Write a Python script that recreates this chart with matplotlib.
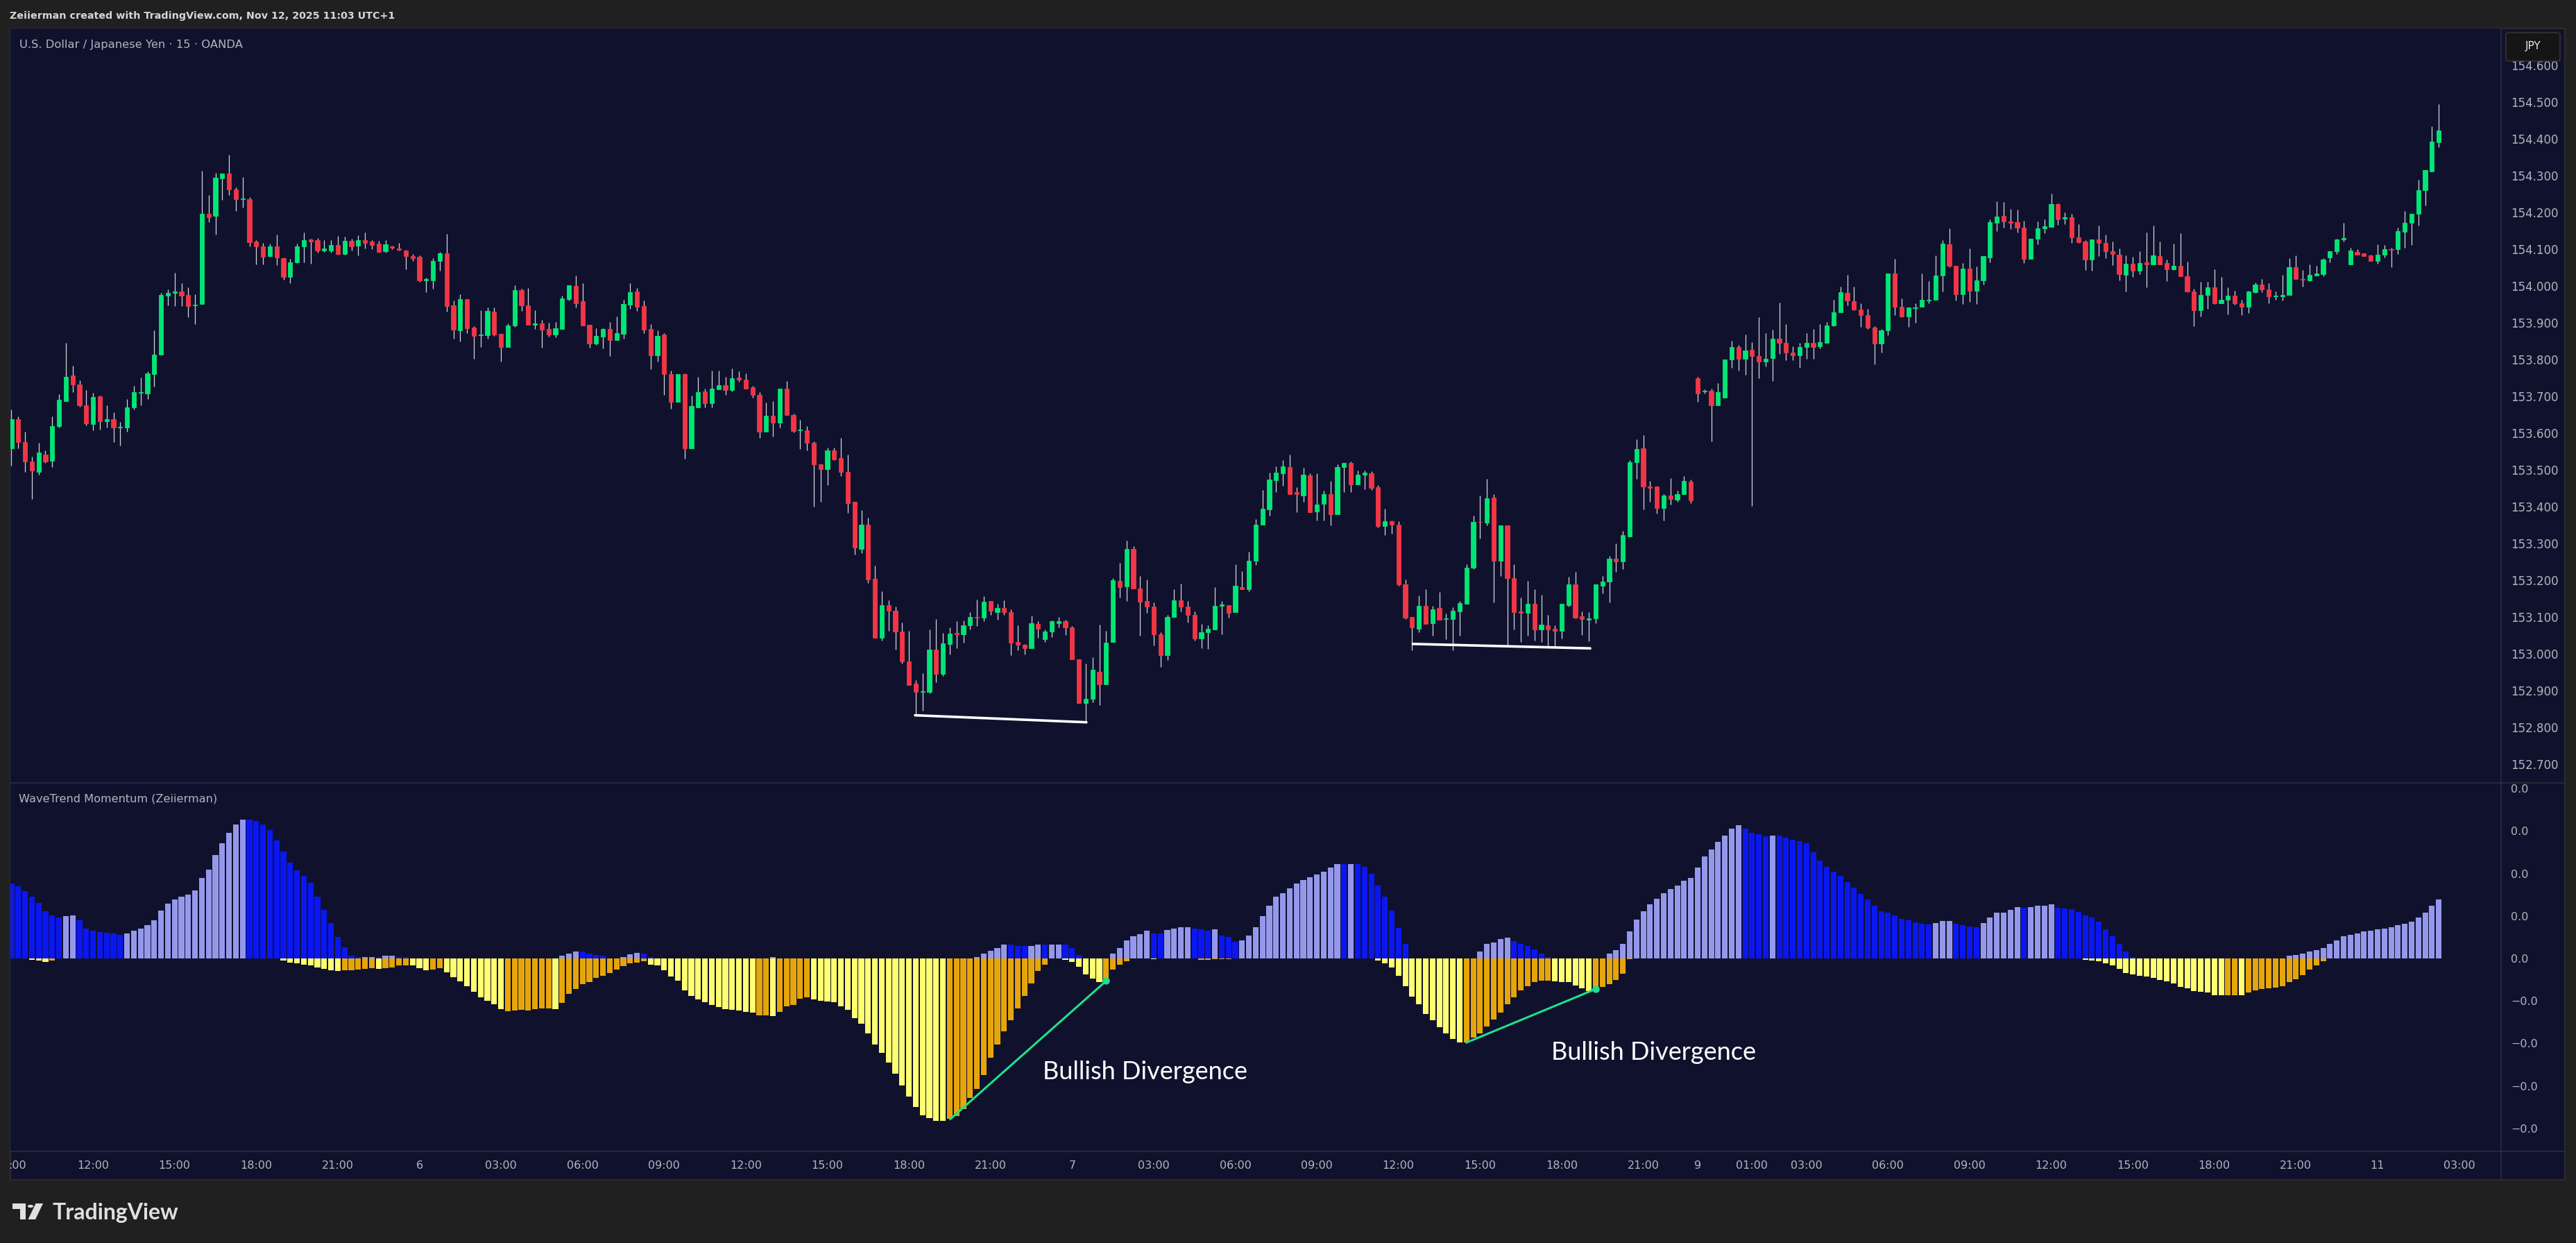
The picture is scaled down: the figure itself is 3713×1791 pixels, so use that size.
"""
plot.py
USDJPY 15m candles with WaveTrend Momentum histogram (TradingView style)
"""
import numpy as np
import matplotlib
matplotlib.use("Agg")
import matplotlib.pyplot as plt
from matplotlib import font_manager
from matplotlib.patches import Rectangle, FancyBboxPatch, Polygon, Circle
from matplotlib.lines import Line2D
from matplotlib.ticker import FixedLocator, FuncFormatter

# =========================================================
# DATA  (bar index 0 = 09:00 on day 5, 15-minute bars)
# =========================================================
OPEN = [
    153.558, 153.638, 153.575, 153.522, 153.495, 153.542, 153.524, 153.620, 153.688, 153.756,
    153.733, 153.676, 153.624, 153.700, 153.633, 153.638, 153.616, 153.616, 153.670, 153.710,
    153.708, 153.761, 153.814, 153.974, 153.982, 153.986, 153.976, 153.947, 153.952, 154.197,
    154.190, 154.292, 154.306, 154.262, 154.236, 154.236, 154.121, 154.107, 154.081, 154.108,
    154.076, 154.024, 154.065, 154.107, 154.127, 154.125, 154.097, 154.097, 154.112, 154.087,
    154.123, 154.110, 154.125, 154.121, 154.116, 154.095, 154.107, 154.102, 154.097, 154.081,
    154.080, 154.015, 154.016, 154.068, 154.089, 153.947, 153.879, 153.965, 153.888, 153.866,
    153.867, 153.931, 153.871, 153.835, 153.892, 153.989, 153.947, 153.895, 153.899, 153.883,
    153.868, 153.883, 153.965, 154.001, 153.958, 153.895, 153.844, 153.863, 153.883, 153.853,
    153.871, 153.950, 153.985, 153.946, 153.883, 153.812, 153.868, 153.760, 153.686, 153.760,
    153.558, 153.671, 153.714, 153.681, 153.720, 153.731, 153.717, 153.752, 153.745, 153.725,
    153.704, 153.604, 153.647, 153.628, 153.722, 153.649, 153.607, 153.608, 153.574, 153.515,
    153.502, 153.553, 153.532, 153.494, 153.413, 153.286, 153.351, 153.204, 153.043, 153.133,
    153.118, 153.060, 152.979, 152.919, 152.896, 152.896, 153.012, 152.946, 153.026, 153.057,
    153.053, 153.077, 153.101, 153.098, 153.144, 153.114, 153.124, 153.114, 153.033, 153.024,
    153.016, 153.082, 153.039, 153.061, 153.083, 153.088, 153.071, 152.985, 152.867, 152.878,
    152.952, 152.918, 153.032, 153.198, 153.183, 153.286, 153.177, 153.143, 153.128, 153.054,
    152.997, 153.100, 153.145, 153.128, 153.105, 153.042, 153.059, 153.067, 153.130, 153.133,
    153.114, 153.182, 153.176, 153.253, 153.351, 153.393, 153.472, 153.490, 153.508, 153.439,
    153.431, 153.486, 153.387, 153.407, 153.434, 153.379, 153.508, 153.520, 153.461, 153.488,
    153.491, 153.454, 153.348, 153.360, 153.352, 153.188, 153.101, 153.069, 153.130, 153.084,
    153.124, 153.094, 153.095, 153.115, 153.136, 153.235, 153.359, 153.356, 153.425, 153.253,
    153.349, 153.206, 153.116, 153.112, 153.136, 153.067, 153.078, 153.069, 153.062, 153.133,
    153.188, 153.103, 153.092, 153.096, 153.186, 153.196, 153.259, 153.252, 153.320, 153.521,
    153.559, 153.455, 153.455, 153.397, 153.431, 153.420, 153.434, 153.469, 153.750, 153.713,
    153.716, 153.676, 153.697, 153.800, 153.835, 153.803, 153.826, 153.809, 153.794, 153.804,
    153.856, 153.846, 153.820, 153.811, 153.835, 153.846, 153.836, 153.846, 153.893, 153.928,
    153.981, 153.959, 153.936, 153.922, 153.887, 153.843, 153.880, 154.035, 153.944, 153.917,
    153.940, 153.944, 153.960, 153.963, 154.028, 154.114, 154.055, 153.977, 154.048, 153.988,
    154.016, 154.078, 154.173, 154.191, 154.176, 154.174, 154.159, 154.074, 154.128, 154.157,
    154.161, 154.223, 154.184, 154.187, 154.132, 154.122, 154.073, 154.126, 154.118, 154.095,
    154.085, 154.031, 154.061, 154.042, 154.064, 154.059, 154.082, 154.063, 154.046, 154.055,
    154.027, 153.985, 153.935, 153.975, 153.997, 153.954, 153.962, 153.974, 153.954, 153.944,
    153.984, 154.004, 153.991, 153.972, 153.972, 153.975, 154.051, 154.019, 154.016, 154.029,
    154.033, 154.078, 154.095, 154.126, 154.059, 154.093, 154.089, 154.084, 154.069, 154.086,
    154.100, 154.100, 154.147, 154.172, 154.196, 154.261, 154.311, 154.391,
]
HIGH = [
    153.664, 153.645, 153.605, 153.537, 153.573, 153.553, 153.645, 153.706, 153.845, 153.783,
    153.743, 153.718, 153.710, 153.703, 153.675, 153.657, 153.630, 153.693, 153.729, 153.751,
    153.769, 153.880, 153.982, 153.991, 154.037, 154.008, 153.997, 153.978, 154.314, 154.248,
    154.308, 154.306, 154.357, 154.268, 154.297, 154.242, 154.124, 154.117, 154.115, 154.140,
    154.078, 154.074, 154.115, 154.146, 154.129, 154.131, 154.125, 154.125, 154.136, 154.134,
    154.128, 154.139, 154.146, 154.125, 154.123, 154.125, 154.110, 154.118, 154.099, 154.087,
    154.084, 154.023, 154.076, 154.093, 154.142, 153.961, 153.978, 153.965, 153.890, 153.935,
    153.942, 153.942, 153.871, 153.899, 154.002, 153.993, 153.994, 153.935, 153.907, 153.900,
    153.903, 153.974, 154.002, 154.029, 154.008, 153.895, 153.885, 153.885, 153.903, 153.918,
    153.963, 154.008, 153.995, 153.961, 153.897, 153.880, 153.872, 153.770, 153.760, 153.762,
    153.702, 153.754, 153.721, 153.771, 153.770, 153.754, 153.776, 153.768, 153.763, 153.729,
    153.712, 153.683, 153.687, 153.721, 153.742, 153.654, 153.636, 153.620, 153.577, 153.517,
    153.561, 153.561, 153.587, 153.542, 153.413, 153.391, 153.370, 153.239, 153.170, 153.145,
    153.129, 153.086, 153.063, 152.929, 152.948, 153.066, 153.094, 153.057, 153.071, 153.088,
    153.090, 153.114, 153.148, 153.157, 153.144, 153.137, 153.146, 153.121, 153.078, 153.026,
    153.104, 153.088, 153.066, 153.090, 153.100, 153.093, 153.076, 152.985, 152.974, 152.991,
    153.080, 153.063, 153.206, 153.247, 153.307, 153.293, 153.211, 153.203, 153.139, 153.059,
    153.105, 153.176, 153.190, 153.143, 153.116, 153.081, 153.078, 153.182, 153.143, 153.133,
    153.243, 153.224, 153.278, 153.367, 153.446, 153.493, 153.509, 153.526, 153.541, 153.454,
    153.506, 153.491, 153.491, 153.444, 153.471, 153.515, 153.520, 153.523, 153.498, 153.498,
    153.496, 153.459, 153.395, 153.363, 153.361, 153.202, 153.101, 153.159, 153.176, 153.130,
    153.168, 153.109, 153.126, 153.143, 153.244, 153.376, 153.431, 153.476, 153.434, 153.349,
    153.349, 153.244, 153.153, 153.198, 153.176, 153.161, 153.105, 153.078, 153.136, 153.210,
    153.223, 153.116, 153.114, 153.189, 153.212, 153.267, 153.301, 153.334, 153.526, 153.584,
    153.595, 153.471, 153.455, 153.435, 153.478, 153.444, 153.484, 153.474, 153.753, 153.720,
    153.722, 153.737, 153.800, 153.851, 153.840, 153.868, 153.848, 153.916, 153.872, 153.882,
    153.956, 153.897, 153.836, 153.845, 153.872, 153.884, 153.897, 153.903, 153.963, 153.998,
    154.030, 153.998, 153.954, 153.938, 153.891, 153.883, 154.035, 154.074, 153.967, 153.942,
    153.954, 154.035, 154.013, 154.084, 154.125, 154.157, 154.055, 154.063, 154.103, 154.053,
    154.082, 154.182, 154.231, 154.229, 154.210, 154.208, 154.177, 154.128, 154.176, 154.181,
    154.251, 154.225, 154.200, 154.196, 154.168, 154.124, 154.126, 154.164, 154.140, 154.121,
    154.103, 154.084, 154.079, 154.095, 154.146, 154.164, 154.121, 154.073, 154.116, 154.144,
    154.067, 153.993, 154.012, 154.012, 154.046, 154.024, 153.997, 153.987, 153.963, 153.988,
    154.010, 154.019, 154.008, 153.986, 154.031, 154.075, 154.084, 154.044, 154.059, 154.055,
    154.075, 154.095, 154.128, 154.172, 154.104, 154.100, 154.089, 154.086, 154.114, 154.112,
    154.104, 154.158, 154.204, 154.197, 154.289, 154.315, 154.434, 154.495,
]
LOW = [
    153.512, 153.558, 153.495, 153.421, 153.488, 153.520, 153.508, 153.616, 153.688, 153.712,
    153.672, 153.621, 153.607, 153.610, 153.616, 153.575, 153.567, 153.605, 153.665, 153.675,
    153.692, 153.726, 153.814, 153.947, 153.946, 153.946, 153.915, 153.897, 153.952, 154.174,
    154.140, 154.235, 154.248, 154.204, 154.214, 154.107, 154.059, 154.059, 154.080, 154.057,
    154.018, 154.008, 154.063, 154.065, 154.061, 154.091, 154.093, 154.091, 154.086, 154.086,
    154.097, 154.084, 154.102, 154.101, 154.091, 154.091, 154.101, 154.097, 154.046, 154.069,
    154.012, 153.984, 153.993, 154.042, 153.931, 153.857, 153.850, 153.872, 153.803, 153.835,
    153.856, 153.864, 153.794, 153.835, 153.889, 153.932, 153.895, 153.883, 153.833, 153.863,
    153.861, 153.883, 153.960, 153.942, 153.893, 153.833, 153.840, 153.831, 153.810, 153.853,
    153.856, 153.939, 153.932, 153.872, 153.773, 153.795, 153.704, 153.666, 153.686, 153.531,
    153.558, 153.671, 153.671, 153.671, 153.720, 153.704, 153.713, 153.739, 153.722, 153.696,
    153.588, 153.604, 153.591, 153.615, 153.649, 153.602, 153.556, 153.554, 153.401, 153.413,
    153.458, 153.527, 153.484, 153.384, 153.270, 153.273, 153.192, 153.043, 153.036, 153.063,
    153.011, 152.974, 152.916, 152.833, 152.845, 152.893, 152.922, 152.939, 152.998, 153.016,
    153.030, 153.067, 153.075, 153.089, 153.106, 153.092, 153.105, 152.997, 153.010, 152.999,
    153.015, 153.044, 153.033, 153.046, 153.071, 153.051, 152.985, 152.866, 152.814, 152.869,
    152.861, 152.918, 153.032, 153.154, 153.143, 153.177, 153.050, 153.112, 153.023, 152.965,
    152.983, 153.100, 153.116, 153.085, 153.036, 153.015, 153.013, 153.067, 153.054, 153.099,
    153.114, 153.176, 153.170, 153.242, 153.351, 153.375, 153.440, 153.457, 153.435, 153.385,
    153.413, 153.386, 153.362, 153.362, 153.350, 153.379, 153.440, 153.440, 153.461, 153.447,
    153.445, 153.343, 153.322, 153.327, 153.185, 153.094, 153.010, 153.059, 153.082, 153.050,
    153.093, 153.039, 153.010, 153.050, 153.136, 153.231, 153.313, 153.349, 153.139, 153.212,
    153.021, 153.067, 153.033, 153.050, 153.036, 153.033, 153.017, 153.017, 153.042, 153.129,
    153.097, 153.052, 153.035, 153.084, 153.164, 153.139, 153.223, 153.230, 153.320, 153.476,
    153.392, 153.413, 153.381, 153.362, 153.406, 153.414, 153.434, 153.410, 153.686, 153.707,
    153.577, 153.676, 153.697, 153.777, 153.771, 153.758, 153.402, 153.749, 153.781, 153.741,
    153.816, 153.799, 153.798, 153.777, 153.803, 153.802, 153.831, 153.846, 153.890, 153.928,
    153.947, 153.934, 153.889, 153.884, 153.787, 153.820, 153.867, 153.922, 153.915, 153.889,
    153.901, 153.944, 153.954, 153.963, 153.985, 154.051, 153.960, 153.952, 153.957, 153.952,
    154.004, 154.065, 154.149, 154.159, 154.155, 154.145, 154.063, 154.074, 154.114, 154.144,
    154.161, 154.167, 154.168, 154.117, 154.117, 154.044, 154.041, 154.081, 154.076, 154.057,
    154.016, 153.985, 154.024, 154.033, 153.997, 154.059, 154.059, 154.014, 154.044, 154.026,
    153.984, 153.891, 153.917, 153.938, 153.952, 153.954, 153.923, 153.949, 153.922, 153.927,
    153.981, 153.984, 153.954, 153.963, 153.961, 153.975, 154.019, 153.999, 154.013, 154.029,
    154.026, 154.064, 154.088, 154.122, 154.059, 154.085, 154.082, 154.069, 154.061, 154.077,
    154.051, 154.088, 154.104, 154.112, 154.164, 154.220, 154.311, 154.378,
]
CLOSE = [
    153.638, 153.575, 153.522, 153.498, 153.548, 153.522, 153.620, 153.690, 153.754, 153.733,
    153.675, 153.626, 153.699, 153.632, 153.638, 153.616, 153.618, 153.670, 153.712, 153.712,
    153.763, 153.814, 153.976, 153.982, 153.986, 153.974, 153.946, 153.950, 154.197, 154.187,
    154.295, 154.306, 154.262, 154.236, 154.238, 154.120, 154.107, 154.080, 154.108, 154.077,
    154.025, 154.065, 154.108, 154.125, 154.122, 154.097, 154.102, 154.112, 154.087, 154.123,
    154.108, 154.125, 154.118, 154.112, 154.093, 154.114, 154.104, 154.099, 154.081, 154.076,
    154.016, 154.020, 154.069, 154.089, 153.945, 153.881, 153.965, 153.886, 153.865, 153.868,
    153.932, 153.869, 153.835, 153.892, 153.989, 153.947, 153.895, 153.899, 153.881, 153.868,
    153.885, 153.967, 154.002, 153.953, 153.893, 153.844, 153.865, 153.883, 153.853, 153.872,
    153.952, 153.984, 153.944, 153.882, 153.812, 153.865, 153.760, 153.686, 153.760, 153.558,
    153.674, 153.712, 153.681, 153.721, 153.731, 153.717, 153.750, 153.745, 153.722, 153.704,
    153.604, 153.647, 153.628, 153.721, 153.649, 153.606, 153.610, 153.574, 153.515, 153.502,
    153.553, 153.529, 153.494, 153.410, 153.289, 153.351, 153.203, 153.043, 153.133, 153.118,
    153.060, 152.979, 152.916, 152.896, 152.898, 153.012, 152.945, 153.028, 153.055, 153.053,
    153.077, 153.101, 153.098, 153.142, 153.118, 153.124, 153.114, 153.030, 153.024, 153.016,
    153.084, 153.068, 153.061, 153.088, 153.088, 153.071, 152.985, 152.866, 152.878, 152.956,
    152.918, 153.030, 153.200, 153.181, 153.286, 153.177, 153.141, 153.128, 153.053, 152.997,
    153.100, 153.146, 153.128, 153.105, 153.041, 153.059, 153.069, 153.131, 153.135, 153.112,
    153.186, 153.176, 153.253, 153.351, 153.395, 153.474, 153.493, 153.510, 153.435, 153.434,
    153.488, 153.386, 153.406, 153.434, 153.379, 153.508, 153.520, 153.461, 153.488, 153.493,
    153.451, 153.348, 153.360, 153.351, 153.188, 153.098, 153.071, 153.130, 153.082, 153.121,
    153.093, 153.097, 153.118, 153.138, 153.235, 153.359, 153.358, 153.423, 153.253, 153.349,
    153.206, 153.114, 153.112, 153.136, 153.067, 153.080, 153.066, 153.062, 153.136, 153.188,
    153.099, 153.094, 153.097, 153.189, 153.196, 153.259, 153.252, 153.322, 153.521, 153.557,
    153.455, 153.452, 153.397, 153.431, 153.421, 153.435, 153.471, 153.417, 153.707, 153.716,
    153.676, 153.712, 153.800, 153.835, 153.802, 153.825, 153.809, 153.794, 153.803, 153.856,
    153.846, 153.820, 153.811, 153.835, 153.846, 153.835, 153.847, 153.893, 153.929, 153.984,
    153.960, 153.936, 153.922, 153.888, 153.843, 153.880, 154.035, 153.944, 153.918, 153.942,
    153.942, 153.963, 153.963, 154.029, 154.116, 154.056, 153.977, 154.048, 153.988, 154.016,
    154.082, 154.174, 154.189, 154.175, 154.173, 154.158, 154.074, 154.128, 154.157, 154.163,
    154.223, 154.182, 154.187, 154.132, 154.120, 154.073, 154.126, 154.118, 154.095, 154.088,
    154.033, 154.061, 154.041, 154.063, 154.058, 154.084, 154.059, 154.046, 154.055, 154.026,
    153.986, 153.935, 153.975, 153.997, 153.954, 153.963, 153.974, 153.954, 153.944, 153.985,
    154.004, 153.991, 153.972, 153.974, 153.975, 154.051, 154.019, 154.017, 154.031, 154.035,
    154.072, 154.095, 154.127, 154.131, 154.096, 154.085, 154.082, 154.069, 154.086, 154.100,
    154.099, 154.150, 154.172, 154.197, 154.261, 154.315, 154.393, 154.423,
]

# WaveTrend momentum: bullish (>=0) and bearish (<=0) histogram parts
WT_BULL = [
    .0177, .0170, .0158, .0145, .0130, .0111, .0101, .0097, .0099, .0101,
    .0090, .0071, .0065, .0062, .0061, .0059, .0056, .0059, .0065, .0071,
    .0079, .0090, .0112, .0129, .0139, .0146, .0151, .0160, .0189, .0210,
    .0243, .0271, .0295, .0315, .0327, .0327, .0324, .0316, .0303, .0278,
    .0251, .0226, .0208, .0194, .0178, .0145, .0115, .0083, .0050, .0027,
    .0006, .0003, .0004, .0004, .0003, .0006, .0006, .0004, .0003, 0,
    0, 0, 0, 0, 0, 0, 0, 0, 0, 0,
    0, 0, 0, 0, 0, 0, 0, 0, 0, 0,
    0, .0006, .0012, .0017, .0016, .0011, .0008, .0006, 0, 0,
    .0004, .0010, .0013, .0011, .0003, 0, 0, 0, 0, 0,
    0, 0, 0, 0, 0, 0, 0, 0, 0, 0,
    0, 0, .0003, 0, 0, 0, 0, 0, 0, 0,
    0, 0, 0, 0, 0, 0, 0, 0, 0, 0,
    0, 0, 0, 0, 0, 0, 0, 0, 0, 0,
    0, 0, .0003, .0012, .0018, .0025, .0032, .0032, .0030, .0030,
    .0030, .0032, .0032, .0032, .0032, .0032, .0024, .0008, 0, 0,
    0, 0, .0012, .0025, .0043, .0053, .0058, .0065, .0059, .0059,
    .0067, .0071, .0074, .0074, .0071, .0068, .0066, .0068, .0054, .0050,
    .0040, .0043, .0054, .0074, .0099, .0124, .0145, .0154, .0165, .0176,
    .0184, .0192, .0198, .0205, .0214, .0223, .0223, .0223, .0223, .0216,
    .0200, .0172, .0145, .0113, .0072, .0034, 0, 0, 0, 0,
    0, 0, 0, 0, 0, 0, .0017, .0034, .0037, .0046,
    .0049, .0041, .0034, .0030, .0021, .0012, .0003, 0, 0, 0,
    0, 0, 0, 0, 0, .0011, .0019, .0034, .0063, .0092,
    .0111, .0127, .0140, .0153, .0163, .0172, .0183, .0189, .0214, .0240,
    .0257, .0274, .0290, .0306, .0313, .0306, .0296, .0292, .0287, .0290,
    .0289, .0285, .0280, .0276, .0271, .0250, .0230, .0216, .0205, .0194,
    .0179, .0167, .0152, .0139, .0125, .0111, .0108, .0101, .0093, .0090,
    .0085, .0081, .0080, .0083, .0089, .0089, .0081, .0079, .0076, .0074,
    .0083, .0096, .0108, .0108, .0115, .0121, .0120, .0121, .0124, .0125,
    .0127, .0120, .0118, .0116, .0110, .0102, .0096, .0087, .0069, .0052,
    .0034, .0017, .0004, 0, 0, 0, 0, 0, 0, 0,
    0, 0, 0, 0, 0, 0, 0, 0, 0, 0,
    0, 0, 0, 0, 0, .0006, .0009, .0012, .0016, .0019,
    .0025, .0034, .0042, .0052, .0056, .0059, .0063, .0065, .0068, .0071,
    .0074, .0079, .0081, .0087, .0097, .0108, .0125, .0139,
]
WT_BEAR = [
    0, 0, 0, -.0003, -.0005, -.0008, -.0005, 0, 0, 0,
    0, 0, 0, 0, 0, 0, 0, 0, 0, 0,
    0, 0, 0, 0, 0, 0, 0, 0, 0, 0,
    0, 0, 0, 0, 0, 0, 0, 0, 0, 0,
    -.0005, -.0010, -.0012, -.0014, -.0017, -.0022, -.0025, -.0028, -.0030, -.0028,
    -.0028, -.0026, -.0025, -.0023, -.0025, -.0023, -.0021, -.0017, -.0016, -.0017,
    -.0023, -.0028, -.0026, -.0023, -.0032, -.0044, -.0054, -.0065, -.0078, -.0092,
    -.0099, -.0108, -.0120, -.0124, -.0123, -.0121, -.0123, -.0119, -.0117, -.0118,
    -.0119, -.0105, -.0084, -.0072, -.0060, -.0055, -.0046, -.0041, -.0034, -.0026,
    -.0018, -.0012, -.0010, -.0006, -.0014, -.0017, -.0028, -.0043, -.0052, -.0075,
    -.0089, -.0097, -.0103, -.0110, -.0115, -.0119, -.0121, -.0123, -.0125, -.0128,
    -.0134, -.0134, -.0136, -.0125, -.0112, -.0110, -.0094, -.0092, -.0096, -.0099,
    -.0102, -.0103, -.0112, -.0121, -.0141, -.0154, -.0176, -.0202, -.0223, -.0245,
    -.0272, -.0299, -.0325, -.0349, -.0369, -.0376, -.0382, -.0382, -.0378, -.0371,
    -.0354, -.0329, -.0307, -.0274, -.0234, -.0203, -.0172, -.0146, -.0118, -.0089,
    -.0058, -.0030, -.0014, 0, 0, -.0004, -.0008, -.0019, -.0037, -.0047,
    -.0055, -.0050, -.0026, -.0015, -.0007, 0, 0, 0, -.0002, 0,
    0, 0, 0, 0, 0, -.0003, -.0003, -.0002, -.0002, -.0002,
    0, 0, 0, 0, 0, 0, 0, 0, 0, 0,
    0, 0, 0, 0, 0, 0, 0, 0, 0, 0,
    0, -.0005, -.0012, -.0021, -.0041, -.0065, -.0090, -.0108, -.0130, -.0145,
    -.0161, -.0176, -.0189, -.0198, -.0198, -.0186, -.0176, -.0160, -.0144, -.0127,
    -.0108, -.0092, -.0075, -.0065, -.0056, -.0052, -.0052, -.0054, -.0055, -.0056,
    -.0063, -.0070, -.0076, -.0072, -.0067, -.0060, -.0050, -.0036, -.0002, 0,
    0, 0, 0, 0, 0, 0, 0, 0, 0, 0,
    0, 0, 0, 0, 0, 0, 0, 0, 0, 0,
    0, 0, 0, 0, 0, 0, 0, 0, 0, 0,
    0, 0, 0, 0, 0, 0, 0, 0, 0, 0,
    0, 0, 0, 0, 0, 0, 0, 0, 0, 0,
    0, 0, 0, 0, 0, 0, 0, 0, 0, 0,
    0, 0, 0, 0, 0, -.0004, -.0005, -.0006, -.0012, -.0016,
    -.0025, -.0034, -.0037, -.0041, -.0043, -.0046, -.0050, -.0054, -.0059, -.0067,
    -.0070, -.0076, -.0078, -.0080, -.0086, -.0087, -.0087, -.0087, -.0086, -.0080,
    -.0075, -.0072, -.0071, -.0068, -.0065, -.0056, -.0049, -.0039, -.0026, -.0016,
    -.0006, 0, 0, 0, 0, 0, 0, 0, 0, 0,
    0, 0, 0, 0, 0, 0, 0, 0,
]
# colour state per bar, as (code, run length): L=rising bull, B=falling bull,
# Y=falling bear, O=rising bear, .=no bar
BULL_STATE_RUNS = [
    ("B", 8), ("L", 2), ("B", 7), ("L", 18), ("B", 17), ("L", 2), ("B", 1), ("L", 2),
    ("B", 2), (".", 22), ("L", 3), ("B", 4), (".", 2), ("L", 3), ("B", 2), (".", 17),
    ("L", 1), (".", 29), ("L", 5), ("B", 3), ("L", 2), ("B", 1), ("L", 2), ("B", 3),
    (".", 4), ("L", 6), ("B", 2), ("L", 4), ("B", 3), ("L", 1), ("B", 3), ("L", 15),
    ("B", 1), ("L", 1), ("B", 8), (".", 10), ("L", 5), ("B", 6), (".", 8), ("L", 20),
    ("B", 4), ("L", 1), ("B", 23), ("L", 3), ("B", 4), ("L", 6), ("B", 1), ("L", 4),
    ("B", 12), (".", 22), ("L", 23),
]
BEAR_STATE_RUNS = [
    (".", 3), ("Y", 3), ("O", 1), (".", 33), ("Y", 9), ("O", 5), ("Y", 1), ("O", 4),
    ("Y", 3), ("O", 2), ("Y", 9), ("O", 7), ("Y", 1), ("O", 13), ("Y", 16), ("O", 2),
    ("Y", 1), ("O", 5), ("Y", 20), ("O", 15), (".", 2), ("Y", 6), ("O", 4), (".", 3),
    ("Y", 1), (".", 6), ("O", 5), (".", 21), ("Y", 13), ("O", 13), ("Y", 6), ("O", 6),
    (".", 66), ("Y", 21), ("O", 2), ("Y", 1), ("O", 12), (".", 17),
]

# annotations: (bar, value) end points
SUPPORT_LINES = [((132.9, 152.833), (158.1, 152.814)),
                 ((206.1, 153.027), (232.2, 153.015))]
DIVERGENCE_LINES = [((138.1, -0.0378), (161.0, -0.0053)),
                    ((214.0, -0.0198), (233.0, -0.0072))]
DIVERGENCE_LABELS = [(151.7, -0.0267), (226.5, -0.0222)]

TIME_TICKS = [0.85, 12, 24, 36, 48, 60, 72, 84, 96, 108, 120, 132, 144, 156, 168, 180,
              192, 204, 216, 228, 240, 248, 256, 264, 276, 288, 300, 312, 324, 336, 348, 360]
TIME_LABELS = [":00", "12:00", "15:00", "18:00", "21:00", "6", "03:00", "06:00", "09:00",
               "12:00", "15:00", "18:00", "21:00", "7", "03:00", "06:00", "09:00", "12:00",
               "15:00", "18:00", "21:00", "9", "01:00", "03:00", "06:00", "09:00", "12:00",
               "15:00", "18:00", "21:00", "11", "03:00"]
PRICE_TICKS = [152.7, 152.8, 152.9, 153.0, 153.1, 153.2, 153.3, 153.4, 153.5, 153.6,
               153.7, 153.8, 153.9, 154.0, 154.1, 154.2, 154.3, 154.4, 154.5, 154.6]
WT_TICKS = [-0.04, -0.03, -0.02, -0.01, 0.0, 0.01, 0.02, 0.03, 0.04]

# =========================================================
# STYLE / LAYOUT (pixels of the 3713x1791 canvas)
# =========================================================
W, H, DPI = 3713, 1791, 100
PAGE_BG  = "#202020"
CHART_BG = "#10122d"
SEP      = "#2c2f40"
TEXT     = "#b2b5be"
UP, DOWN, WICK = "#00e676", "#f23645", "#d4d4dc"
STATE_COLORS = {"L": "#9598ea", "B": "#0a17f2", "Y": "#ffff72", "O": "#e6a50b", ".": "none"}
DIV_GREEN = "#1fe08a"

PANEL_L, PANEL_R, PANEL_T, PANEL_B = 15, 3697, 40.7, 1700
SCALE_X, SPLIT_Y, TIME_Y = 3605, 1127.6, 1658.5
XLIM = (-0.153, 366.17)
PRICE_YLIM = (152.650, 154.701)
WT_YLIM = (-0.04534, 0.04141)

names = {f.name for f in font_manager.fontManager.ttflist}
NARROW = "Liberation Sans Narrow" if "Liberation Sans Narrow" in names else "Lato"
plt.rcParams["font.family"] = ["DejaVu Sans"]


def fx(px):
    return px / W


def fy(py):
    return 1 - py / H


def expand(runs):
    return [STATE_COLORS[c] for c, n in runs for _ in range(n)]


# =========================================================
# FIGURE
# =========================================================
fig = plt.figure(figsize=(W / DPI, H / DPI), dpi=DPI, facecolor=PAGE_BG)
fig.patches.append(Rectangle((fx(PANEL_L), fy(PANEL_B)), fx(PANEL_R - PANEL_L),
                             (PANEL_B - PANEL_T) / H, transform=fig.transFigure,
                             facecolor=CHART_BG, edgecolor="#303030", lw=1.2, zorder=-1))

ax_p = fig.add_axes([fx(PANEL_L), fy(SPLIT_Y), fx(SCALE_X - PANEL_L), (SPLIT_Y - PANEL_T) / H])
ax_w = fig.add_axes([fx(PANEL_L), fy(TIME_Y), fx(SCALE_X - PANEL_L), (TIME_Y - SPLIT_Y) / H],
                    sharex=ax_p)
for ax in (ax_p, ax_w):
    ax.set_facecolor(CHART_BG)
    for s in ax.spines.values():
        s.set_visible(False)
    ax.yaxis.tick_right()
    ax.tick_params(axis="y", length=0, pad=10, labelcolor=TEXT)

# ── Candles ───────────────────────────────────────────
x = np.arange(len(CLOSE))
o, h, l, c = (np.array(a) for a in (OPEN, HIGH, LOW, CLOSE))
cols = np.where(c >= o, UP, DOWN)
ax_p.vlines(x, l, h, colors=WICK, lw=0.9, zorder=2)
ax_p.bar(x, c - o, bottom=o, width=0.64, color=cols, edgecolor=cols, lw=0.6, zorder=3)
for (x0, y0), (x1, y1) in SUPPORT_LINES:
    ax_p.plot([x0, x1], [y0, y1], color="white", lw=2.6, solid_capstyle="round", zorder=4)

ax_p.set_xlim(*XLIM)
ax_p.set_ylim(*PRICE_YLIM)
ax_p.yaxis.set_major_locator(FixedLocator(PRICE_TICKS))
ax_p.yaxis.set_major_formatter(FuncFormatter(lambda v, _: f"{v:.3f}"))
ax_p.tick_params(axis="y", labelsize=12)
ax_p.tick_params(axis="x", bottom=False, labelbottom=False)

# ── WaveTrend histogram ───────────────────────────────
ax_w.bar(x, WT_BULL, width=0.82, color=expand(BULL_STATE_RUNS), lw=0, zorder=2)
ax_w.bar(x, WT_BEAR, width=0.82, color=expand(BEAR_STATE_RUNS), lw=0, zorder=2)
for (x0, y0), (x1, y1) in DIVERGENCE_LINES:
    ax_w.plot([x0, x1], [y0, y1], color=DIV_GREEN, lw=2.2, zorder=4)
    ax_w.plot(x1, y1, "o", color=DIV_GREEN, ms=6.5, zorder=5)
for lx, ly in DIVERGENCE_LABELS:
    ax_w.text(lx, ly, "Bullish Divergence", color="white", fontsize=26,
              family=[NARROW, "DejaVu Sans"], ha="left", va="center", zorder=5)

ax_w.set_ylim(*WT_YLIM)
ax_w.yaxis.set_major_locator(FixedLocator(WT_TICKS))
ax_w.yaxis.set_major_formatter(FuncFormatter(lambda v, _: f"{v:.1f}".replace("-", "\u2212")))
ax_w.tick_params(axis="y", labelsize=11.5)
ax_w.xaxis.set_major_locator(FixedLocator(TIME_TICKS))
ax_w.set_xticklabels(TIME_LABELS)
ax_w.tick_params(axis="x", length=0, pad=9.7, labelsize=11.5, labelcolor=TEXT)

# ── Pane separators ───────────────────────────────────
for (x0, y0, x1, y1) in [(PANEL_L, SPLIT_Y, PANEL_R, SPLIT_Y), (PANEL_L, TIME_Y, PANEL_R, TIME_Y),
                         (SCALE_X, PANEL_T, SCALE_X, PANEL_B)]:
    fig.lines.append(Line2D([fx(x0), fx(x1)], [fy(y0), fy(y1)], transform=fig.transFigure,
                            color=SEP, lw=1.1, zorder=3))

# ── Currency box on the price scale ───────────────────
fig.patches.append(FancyBboxPatch((fx(3612), fy(88)), fx(78), 41 / H,
                                  boxstyle="round,pad=0,rounding_size=0.0015",
                                  transform=fig.transFigure, facecolor="#151515",
                                  edgecolor="#3a3a3a", lw=1.0, zorder=5))
fig.text(fx(3651), fy(66), "JPY", color="#e6e6e6", fontsize=11, ha="center", va="center", zorder=6)

# ── Texts ─────────────────────────────────────────────
fig.text(fx(14), fy(23), "Zeiierman created with TradingView.com, Nov 12, 2025 11:03 UTC+1",
         color="#d6d6d6", fontsize=10.3, fontweight="bold", ha="left", va="center")
fig.text(fx(27.5), fy(64), "U.S. Dollar / Japanese Yen \u00b7 15 \u00b7 OANDA",
         color=TEXT, fontsize=11.8, ha="left", va="center")
fig.text(fx(27), fy(1151), "WaveTrend Momentum (Zeiierman)",
         color=TEXT, fontsize=11.6, ha="left", va="center")

# ── TradingView footer logo ───────────────────────────
logo_col = "#e0e0e0"
t_shape = [(18, 1734), (37, 1734), (37, 1757), (29, 1757), (29, 1742), (18, 1742)]
slash = [(51.5, 1734), (62, 1734), (51, 1757), (40.5, 1757)]
for pts in (t_shape, slash):
    fig.patches.append(Polygon([(fx(a), fy(b)) for a, b in pts], closed=True,
                               transform=fig.transFigure, facecolor=logo_col, lw=0))
fig.patches.append(Circle((fx(44), fy(1738)), 4.2 / W, transform=fig.transFigure,
                          facecolor=logo_col, lw=0))
fig.text(fx(75.5), fy(1757), "TradingView", color=logo_col, fontsize=23,
         family=["Lato", "DejaVu Sans"], fontweight="bold", ha="left", va="baseline")

fig.savefig("out.png", dpi=DPI, facecolor=PAGE_BG)
